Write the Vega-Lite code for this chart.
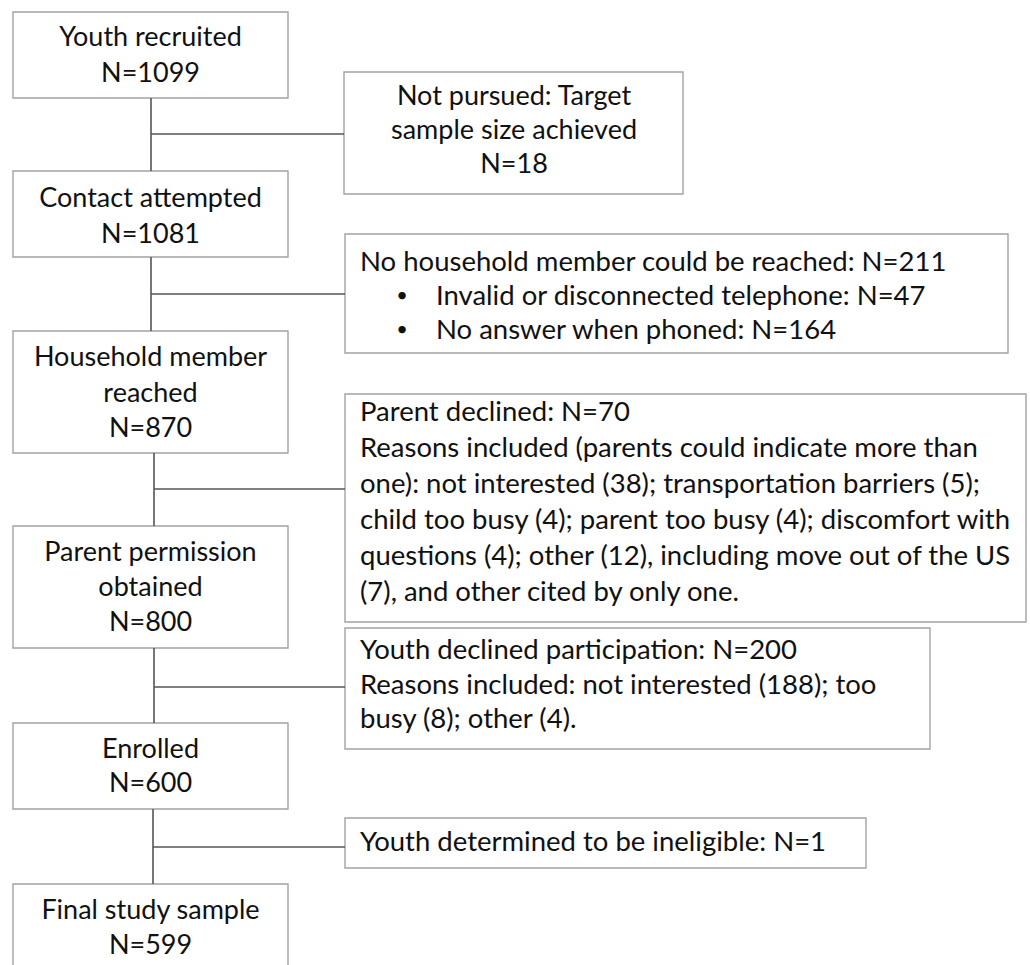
{
  "$schema": "https://vega.github.io/schema/vega-lite/v6.json",
  "width": 1030,
  "height": 965,
  "padding": 0,
  "autosize": {"type": "fit", "contains": "padding"},
  "background": "white",
  "config": {"view": {"stroke": null}},
  "datasets": {
    "boxes": [
      {"id": "B1", "x1": 13, "x2": 288, "y1": 12, "y2": 98},
      {"id": "B2", "x1": 13, "x2": 288, "y1": 171, "y2": 257},
      {"id": "B3", "x1": 13, "x2": 288, "y1": 331, "y2": 453},
      {"id": "B4", "x1": 13, "x2": 288, "y1": 526, "y2": 648},
      {"id": "B5", "x1": 13, "x2": 288, "y1": 723, "y2": 809},
      {"id": "B6", "x1": 13, "x2": 288, "y1": 884, "y2": 975},
      {"id": "R1", "x1": 344, "x2": 683, "y1": 72, "y2": 194},
      {"id": "R2", "x1": 345, "x2": 1008, "y1": 234, "y2": 353},
      {"id": "R3", "x1": 345, "x2": 1026, "y1": 394, "y2": 622},
      {"id": "R4", "x1": 345, "x2": 930, "y1": 628, "y2": 749},
      {"id": "R5", "x1": 345, "x2": 866, "y1": 818, "y2": 868}
    ],
    "links": [
      {"x1": 151, "x2": 151, "y1": 98, "y2": 171},
      {"x1": 151, "x2": 344, "y1": 134, "y2": 134},
      {"x1": 151, "x2": 151, "y1": 257, "y2": 331},
      {"x1": 151, "x2": 345, "y1": 294, "y2": 294},
      {"x1": 154, "x2": 154, "y1": 453, "y2": 526},
      {"x1": 154, "x2": 345, "y1": 489, "y2": 489},
      {"x1": 154, "x2": 154, "y1": 648, "y2": 723},
      {"x1": 154, "x2": 345, "y1": 687, "y2": 687},
      {"x1": 153, "x2": 153, "y1": 809, "y2": 884},
      {"x1": 153, "x2": 345, "y1": 847, "y2": 847}
    ],
    "labels": [
      {"pos": "center", "x": 150.5, "y": 38, "t": "Youth recruited"},
      {"pos": "center", "x": 150.5, "y": 74, "t": "N=1099"},
      {"pos": "center", "x": 150.5, "y": 199, "t": "Contact attempted"},
      {"pos": "center", "x": 150.5, "y": 235, "t": "N=1081"},
      {"pos": "center", "x": 150.5, "y": 358, "t": "Household member"},
      {"pos": "center", "x": 150.5, "y": 394, "t": "reached"},
      {"pos": "center", "x": 150.5, "y": 429, "t": "N=870"},
      {"pos": "center", "x": 150.5, "y": 553, "t": "Parent permission"},
      {"pos": "center", "x": 150.5, "y": 588, "t": "obtained"},
      {"pos": "center", "x": 150.5, "y": 623, "t": "N=800"},
      {"pos": "center", "x": 150.5, "y": 750, "t": "Enrolled"},
      {"pos": "center", "x": 150.5, "y": 784, "t": "N=600"},
      {"pos": "center", "x": 150.5, "y": 911, "t": "Final study sample"},
      {"pos": "center", "x": 150.5, "y": 946, "t": "N=599"},
      {"pos": "rcenter", "x": 514, "y": 97, "t": "Not pursued: Target"},
      {"pos": "rcenter", "x": 514, "y": 131, "t": "sample size achieved"},
      {"pos": "rcenter", "x": 514, "y": 165, "t": "N=18"},
      {"pos": "left", "x": 360, "y": 263, "t": "No household member could be reached: N=211"},
      {"pos": "bullet", "x": 402, "y": 296, "t": "•"},
      {"pos": "left", "x": 436, "y": 297, "t": "Invalid or disconnected telephone: N=47"},
      {"pos": "bullet", "x": 402, "y": 330, "t": "•"},
      {"pos": "left", "x": 436, "y": 331, "t": "No answer when phoned: N=164"},
      {"pos": "left", "x": 360, "y": 413, "t": "Parent declined: N=70"},
      {"pos": "left", "x": 360, "y": 449, "t": "Reasons included (parents could indicate more than"},
      {"pos": "left", "x": 360, "y": 485, "t": "one): not interested (38); transportation barriers (5);"},
      {"pos": "left", "x": 360, "y": 521, "t": "child too busy (4); parent too busy (4); discomfort with"},
      {"pos": "left", "x": 360, "y": 557, "t": "questions (4); other (12), including move out of the US"},
      {"pos": "left", "x": 360, "y": 593, "t": "(7), and other cited by only one."},
      {"pos": "left", "x": 360, "y": 651, "t": "Youth declined participation: N=200"},
      {"pos": "left", "x": 360, "y": 686, "t": "Reasons included: not interested (188); too"},
      {"pos": "left", "x": 360, "y": 720, "t": "busy (8); other (4)."},
      {"pos": "left", "x": 360, "y": 843, "t": "Youth determined to be ineligible: N=1"}
    ]
  },
  "encoding": {
    "x": {"field": "x1", "type": "quantitative", "scale": {"domain": [0, 1030], "nice": false, "zero": false}, "axis": null},
    "y": {"field": "y1", "type": "quantitative", "scale": {"domain": [0, 965], "nice": false, "zero": false, "reverse": true}, "axis": null}
  },
  "layer": [
    {
      "data": {"name": "boxes"},
      "mark": {"type": "rect", "fill": "white", "stroke": "#a3a3a3", "strokeWidth": 1.4, "clip": true},
      "encoding": {
        "x2": {"field": "x2"},
        "y2": {"field": "y2"}
      }
    },
    {
      "data": {"name": "links"},
      "mark": {"type": "rule", "stroke": "#555555", "strokeWidth": 1.6},
      "encoding": {
        "x2": {"field": "x2"},
        "y2": {"field": "y2"}
      }
    },
    {
      "data": {"name": "labels"},
      "transform": [{"filter": "datum.pos === 'center'"}],
      "mark": {"type": "text", "align": "center", "baseline": "middle", "font": "Lato", "fontSize": 27, "color": "#111111"},
      "encoding": {
        "x": {"field": "x", "type": "quantitative"},
        "y": {"field": "y", "type": "quantitative"},
        "text": {"field": "t"}
      }
    },
    {
      "data": {"name": "labels"},
      "transform": [{"filter": "datum.pos === 'rcenter'"}],
      "mark": {"type": "text", "align": "center", "baseline": "middle", "font": "Lato", "fontSize": 27, "color": "#111111"},
      "encoding": {
        "x": {"field": "x", "type": "quantitative"},
        "y": {"field": "y", "type": "quantitative"},
        "text": {"field": "t"}
      }
    },
    {
      "data": {"name": "labels"},
      "transform": [{"filter": "datum.pos === 'left'"}],
      "mark": {"type": "text", "align": "left", "baseline": "middle", "font": "Lato", "fontSize": 27.5, "color": "#111111"},
      "encoding": {
        "x": {"field": "x", "type": "quantitative"},
        "y": {"field": "y", "type": "quantitative"},
        "text": {"field": "t"}
      }
    },
    {
      "data": {"name": "labels"},
      "transform": [{"filter": "datum.pos === 'bullet'"}],
      "mark": {"type": "text", "align": "center", "baseline": "middle", "font": "Lato", "fontSize": 20, "color": "#111111"},
      "encoding": {
        "x": {"field": "x", "type": "quantitative"},
        "y": {"field": "y", "type": "quantitative"},
        "text": {"field": "t"}
      }
    }
  ]
}
